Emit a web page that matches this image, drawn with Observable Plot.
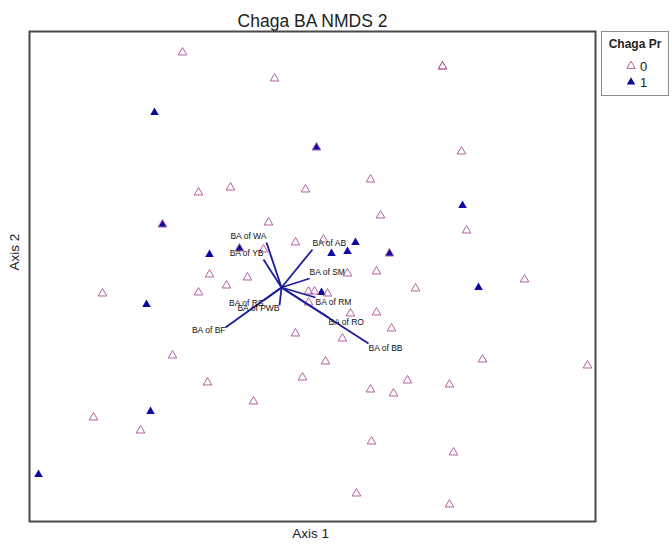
<!DOCTYPE html>
<html>
<head>
<meta charset="utf-8">
<script src="https://cdn.jsdelivr.net/npm/d3@7"></script>
<script src="https://cdn.jsdelivr.net/npm/@observablehq/plot@0.6"></script>
<style>
  body { margin: 0; background: #fff; font-family: "Liberation Sans", Arial, sans-serif; }
  #wrap { position: relative; width: 672px; height: 545px; }
  #legend { position: absolute; left: 601px; top: 31px; }
</style>
</head>
<body>
<div id="wrap"><div id="chart"></div><div id="legend"></div></div>
<script>
// NMDS site scores, Chaga absent (0)
const absentAxis1 = [-0.99, -0.07, 1.61, 1.61, 1.80, 0.89, 0.24, -0.83, -0.51, 0.99, -0.13, 1.85, 0.14, 0.42, -0.18,
  -0.72, -0.34, 0.66, 0.95, 2.43, 1.34, -1.79, -0.83, -0.55, 0.27, 0.33, 0.46, 0.27, 0.69, 0.95, 1.10, 0.14, 0.61,
  0.44, 2.01, 3.06, -1.09, -0.74, 0.21, 1.26, 1.68, 0.89, 1.12, -0.28, -1.88, -1.41, 0.90, 1.72, 0.75, 1.68,
  0.35, -1.19, -0.42, 1.08];
const absentAxis2 = [2.35, 2.09, 2.21, 2.21, 1.36, 1.08, 0.98, 0.95, 1.00, 0.72, 0.65, 0.57, 0.45, 0.48, 0.38,
  0.13, 0.10, 0.14, 0.16, 0.08, -0.01, -0.06, -0.05, 0.02, -0.04, -0.04, -0.06, -0.15, -0.26, -0.25, -0.41, -0.46, -0.51,
  -0.74, -0.72, -0.78, -0.68, -0.95, -0.90, -0.93, -0.97, -1.02, -1.06, -1.14, -1.30, -1.43, -1.54, -1.65, -2.06, -2.17,
  1.40, 0.63, 0.39, 0.34];

// NMDS site scores, Chaga present (1)
const presentAxis1 = [-1.27, 0.35, 1.81, -1.19, -0.72, -0.42, 0.74, 0.50, 0.66, 1.08, 0.40, 1.97, -1.35, -1.31, -2.43];
const presentAxis2 = [1.75, 1.40, 0.82, 0.63, 0.33, 0.39, 0.45, 0.34, 0.36, 0.34, -0.05, 0.00, -0.17, -1.24, -1.87];

// Basal-area environmental vectors
const vectorNames = ["BA of WA", "BA of YB", "BA of AB", "BA of SM", "BA of RM", "BA of RO", "BA of BB", "BA of BF", "BA of RS", "BA of PWB"];
const vectorAxis1 = [-0.15, -0.18, 0.31, 0.28, 0.34, 0.47, 0.87, -0.56, -0.18, -0.02];
const vectorAxis2 = [0.45, 0.28, 0.38, 0.09, -0.10, -0.30, -0.56, -0.40, -0.13, -0.18];

const legendTitle = "Chaga Pr";
const legendLabels = ["0", "1"];

const absent = absentAxis1.map((a, i) => ({a1: a, a2: absentAxis2[i]}));
const present = presentAxis1.map((a, i) => ({a1: a, a2: presentAxis2[i]}));
const vectors = vectorNames.map((n, i) => ({name: n, a1: vectorAxis1[i], a2: vectorAxis2[i]}));

const openColor = "#b4609e";
const fillColor = "#0b0ba3";
const vecColor = "#1d1d9a";
const font = '"Liberation Sans", Arial, sans-serif';

// label placement follows the vector's direction
const vecLabel = (filter, anchor, dy) => Plot.text(vectors, {
  filter, x: "a1", y: "a2", text: "name", textAnchor: anchor, dy,
  fontSize: 8.5, fill: "#111"
});

const chart = Plot.plot({
  width: 672, height: 545,
  marginLeft: 29, marginRight: 77, marginTop: 31, marginBottom: 24,
  x: {domain: [-2.52, 3.14], axis: null},
  y: {domain: [-2.34, 2.56], axis: null},
  style: {fontFamily: font, background: "#fff", overflow: "visible"},
  marks: [
    Plot.frame({stroke: "#4a4a4a", strokeWidth: 2}),
    Plot.dot(present, {x: "a1", y: "a2", symbol: "triangle", r: 3.2, fill: fillColor, stroke: "none"}),
    Plot.dot(absent, {x: "a1", y: "a2", symbol: "triangle", r: 3.2, fill: "none", stroke: openColor, strokeWidth: 1}),
    Plot.link(vectors, {x1: 0, y1: 0, x2: "a1", y2: "a2", stroke: vecColor, strokeWidth: 1.8}),
    vecLabel(d => d.a1 < 0 && d.a2 > 0, "end", -6),
    vecLabel(d => d.a1 < 0 && d.a2 <= 0, "end", 3),
    vecLabel(d => d.a1 >= 0 && d.a2 > 0, "start", -6),
    vecLabel(d => d.a1 >= 0 && d.a2 <= 0, "start", 5),
    Plot.text(["Chaga BA NMDS 2"], {frameAnchor: "top", dy: -17, fontSize: 17.5, fill: "#222"}),
    Plot.text(["Axis 1"], {frameAnchor: "bottom", dy: 16, dx: -2, fontSize: 13.5, fill: "#222"}),
    Plot.text(["Axis 2"], {frameAnchor: "left", rotate: -90, dx: -15, dy: -6, fontSize: 13.5, fill: "#222"})
  ]
});
document.getElementById("chart").append(chart);

// legend box
const lg = d3.select("#legend").append("svg").attr("width", 70).attr("height", 67)
  .style("font-family", font);
lg.append("rect").attr("x", 0.5).attr("y", 0.5).attr("width", 67).attr("height", 64)
  .attr("fill", "#fff").attr("stroke", "#8c8c8c");
lg.append("text").attr("x", 34).attr("y", 17).attr("text-anchor", "middle")
  .attr("font-size", 12).attr("font-weight", "bold").attr("fill", "#222").text(legendTitle);
const tri = d3.symbol(d3.symbolTriangle, Math.PI * 3.1 * 3.1)();
legendLabels.forEach((lab, i) => {
  const y = 35 + i * 16;
  lg.append("path").attr("d", tri).attr("transform", `translate(30,${y})`)
    .attr("fill", i === 0 ? "none" : fillColor)
    .attr("stroke", i === 0 ? openColor : "none");
  lg.append("text").attr("x", 39).attr("y", y + 5).attr("font-size", 13).attr("fill", "#222").text(lab);
});
</script>
</body>
</html>
